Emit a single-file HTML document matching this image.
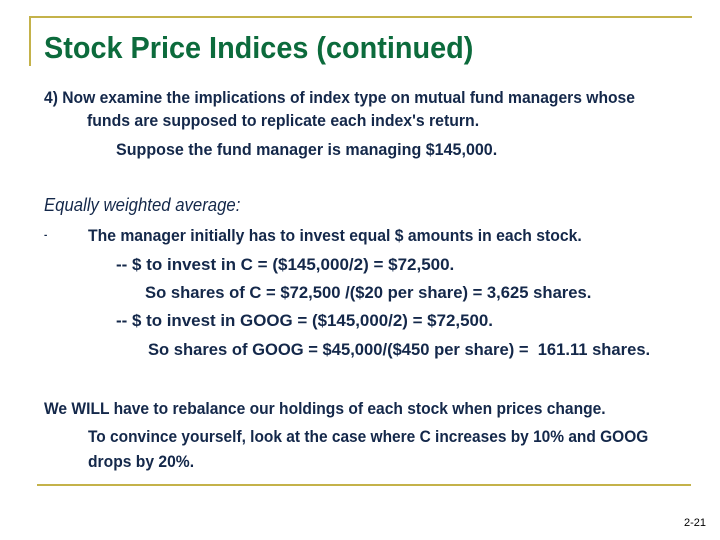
<!DOCTYPE html>
<html><head><meta charset="utf-8"><style>
body{margin:0;width:720px;height:540px;background:#fff;position:relative;overflow:hidden;font-family:"Liberation Sans",sans-serif;}
.l{position:absolute;white-space:nowrap;color:#14284a;font-weight:bold;font-size:17px;line-height:20px;transform-origin:0 50%;}
#title{position:absolute;left:44px;top:30px;font-size:31px;font-weight:bold;color:#0c6b3c;white-space:nowrap;line-height:36px;transform:scaleX(0.93);transform-origin:0 50%;}
.rule{position:absolute;background:#c4b24a;}
</style></head><body>
<div class="rule" style="left:30px;top:16px;width:662px;height:2px"></div>
<div class="rule" style="left:29px;top:16px;width:2px;height:50px"></div>
<div class="rule" style="left:37px;top:484px;width:654px;height:2px"></div>
<div id="title">Stock Price Indices (continued)</div>
<div class="l" style="left:44px;top:88px;transform:scaleX(0.92)">4) Now examine the implications of index type on mutual fund managers whose</div>
<div class="l" style="left:87px;top:111px;transform:scaleX(0.93)">funds are supposed to replicate each index's return.</div>
<div class="l" style="left:116px;top:140px;transform:scaleX(0.945)">Suppose the fund manager is managing $145,000.</div>
<div class="l" style="left:44px;top:195px;font-style:italic;font-weight:normal;font-size:18px;transform:scaleX(0.93)">Equally weighted average:</div>
<div class="l" style="left:44px;top:226px;font-size:10px">-</div>
<div class="l" style="left:88px;top:226px;transform:scaleX(0.925)">The manager initially has to invest equal $ amounts in each stock.</div>
<div class="l" style="left:116px;top:255px">-- $ to invest in C = ($145,000/2) = $72,500.</div>
<div class="l" style="left:145px;top:283px;transform:scaleX(0.978)">So shares of C = $72,500 /($20 per share) = 3,625 shares.</div>
<div class="l" style="left:116px;top:311px;transform:scaleX(0.995)">-- $ to invest in GOOG = ($145,000/2) = $72,500.</div>
<div class="l" style="left:148px;top:340px;transform:scaleX(0.975)">So shares of GOOG = $45,000/($450 per share) = &nbsp;161.11 shares.</div>
<div class="l" style="left:44px;top:399px;transform:scaleX(0.917)">We WILL have to rebalance our holdings of each stock when prices change.</div>
<div class="l" style="left:88px;top:427px;transform:scaleX(0.91)">To convince yourself, look at the case where C increases by 10% and GOOG</div>
<div class="l" style="left:88px;top:452px;transform:scaleX(0.92)">drops by 20%.</div>
<div class="l" style="left:684px;top:513px;font-size:11px;font-weight:normal;color:#000">2-21</div>
</body></html>
